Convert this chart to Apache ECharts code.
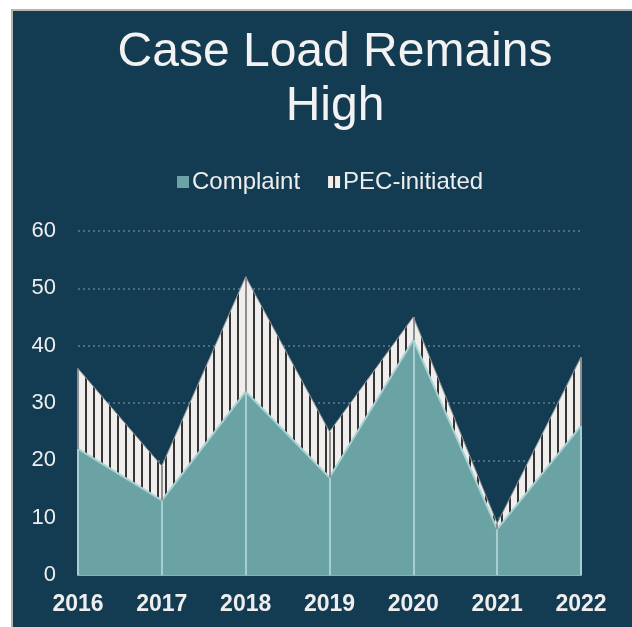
<!DOCTYPE html>
<html>
<head>
<meta charset="utf-8">
<script src="https://cdn.jsdelivr.net/npm/echarts@6/dist/echarts.min.js"></script>
<style>
  html, body { margin: 0; padding: 0; background: #ffffff; overflow: hidden; }
  #panel {
    position: absolute; left: 11px; top: 9px; width: 640px; height: 640px;
    background: #133c52; border-left: 2px solid #b7b3ae; border-top: 2px solid #b7b3ae;
  }
  #chart { position: absolute; left: 0; top: 0; width: 632px; height: 627px; }
</style>
</head>
<body>
<div id="panel"></div>
<div id="chart"></div>
<script>
// Cases per year, split by how the case was opened
const years = ['2016', '2017', '2018', '2019', '2020', '2021', '2022'];
const complaint = [22, 13, 32, 17, 41, 8, 26];
const pecInitiated = [14, 6, 20, 8, 4, 1, 12];
const yTicks = [0, 10, 20, 30, 40, 50, 60];

const FONT = "'Liberation Sans', Arial, sans-serif";
const TEXT = '#eeeeee';

// vertical-stripe fill for the PEC-initiated band
function stripes() {
  const c = document.createElement('canvas');
  c.width = 8; c.height = 8;
  const g = c.getContext('2d');
  g.fillStyle = '#efeeec';
  g.fillRect(0, 0, 8, 8);
  g.fillStyle = '#353535';
  g.fillRect(5, 0, 2, 8);
  return { image: c, repeat: 'repeat' };
}
const stripeFill = stripes();

const totals = complaint.map((v, i) => v + pecInitiated[i]);

const chart = echarts.init(document.getElementById('chart'), null, { renderer: 'canvas' });
chart.setOption({
  backgroundColor: 'transparent',
  animation: false,
  title: {
    text: 'Case Load Remains\nHigh',
    left: 330, top: 21, textAlign: 'center',
    textStyle: { fontFamily: FONT, fontSize: 48, fontWeight: 'normal', color: '#f2f2f2', lineHeight: 54 }
  },
  legend: {
    left: 172, top: 165, itemWidth: 12, itemHeight: 12, itemGap: 28,
    icon: 'rect',
    textStyle: { fontFamily: FONT, fontSize: 24, color: TEXT, padding: [0, 0, 0, -2] },
    data: [
      { name: 'Complaint', itemStyle: { color: '#6ba3a5', borderWidth: 0 } },
      { name: 'PEC-initiated', itemStyle: { color: stripeFill, borderWidth: 0 } }
    ]
  },
  grid: { left: 78, right: 51, top: 231, bottom: 52 },
  xAxis: {
    type: 'category', data: years, boundaryGap: false,
    axisLine: { lineStyle: { color: '#a6a6a6', width: 2 } },
    axisTick: { show: false },
    axisLabel: { fontFamily: FONT, fontSize: 23, fontWeight: 'bold', color: TEXT, margin: 18 }
  },
  yAxis: {
    type: 'value', min: yTicks[0], max: yTicks[yTicks.length - 1], interval: 10,
    axisLine: { show: false }, axisTick: { show: false },
    axisLabel: { fontFamily: FONT, fontSize: 22, color: TEXT, margin: 22 },
    splitLine: { lineStyle: { color: '#5f7f8f', type: [2, 3], width: 1.5 } }
  },
  series: [
    {
      name: 'Complaint', type: 'line', stack: 'cases', data: complaint,
      symbol: 'none',
      lineStyle: { color: '#a9d2d2', width: 2 },
      itemStyle: { color: '#6ba3a5' },
      areaStyle: { color: '#6ba3a5', opacity: 1 },
      markLine: {
        silent: true, symbol: 'none', label: { show: false },
        lineStyle: { color: '#a7cfcf', type: 'solid', width: 2 },
        data: complaint.map((v, i) => [{ coord: [i, 0] }, { coord: [i, v] }])
      }
    },
    {
      name: 'PEC-initiated', type: 'line', stack: 'cases', data: pecInitiated,
      symbol: 'none',
      lineStyle: { color: '#9a9a9a', width: 1 },
      itemStyle: { color: stripeFill },
      areaStyle: { color: stripeFill, opacity: 1 },
      markLine: {
        silent: true, symbol: 'none', label: { show: false },
        lineStyle: { color: '#8e8e8e', type: 'solid', width: 2 },
        data: totals.map((v, i) => [{ coord: [i, complaint[i]] }, { coord: [i, v] }])
      }
    }
  ]
});
</script>
</body>
</html>
